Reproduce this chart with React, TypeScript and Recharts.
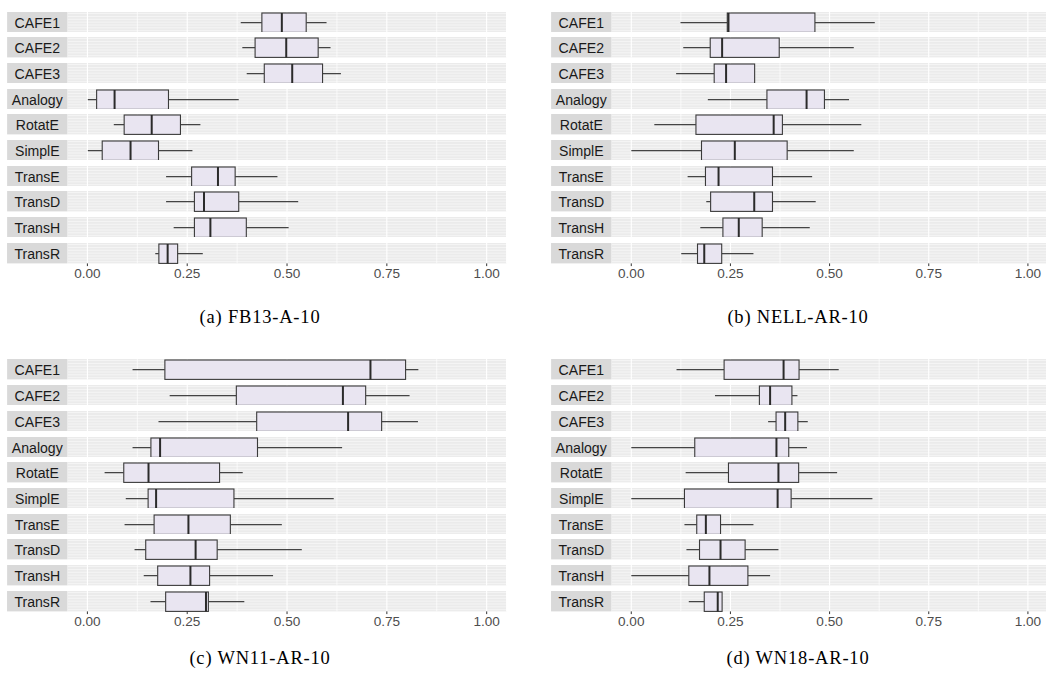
import React from 'react';
import { ComposedChart, Bar, XAxis, YAxis, CartesianGrid } from 'recharts';

// ---------- data ----------
const models = ['CAFE1', 'CAFE2', 'CAFE3', 'Analogy', 'RotatE', 'SimplE', 'TransE', 'TransD', 'TransH', 'TransR'];

// (a) FB13-A-10
const fbLow = [0.384, 0.388, 0.399, 0.001, 0.066, 0.001, 0.197, 0.197, 0.216, 0.170];
const fbQ1 = [0.437, 0.420, 0.443, 0.023, 0.092, 0.037, 0.261, 0.268, 0.268, 0.179];
const fbMed = [0.487, 0.498, 0.513, 0.068, 0.161, 0.108, 0.327, 0.292, 0.308, 0.201];
const fbQ3 = [0.548, 0.578, 0.589, 0.203, 0.233, 0.178, 0.370, 0.379, 0.398, 0.226];
const fbHigh = [0.599, 0.609, 0.635, 0.379, 0.283, 0.263, 0.476, 0.528, 0.504, 0.289];

// (b) NELL-AR-10
const nellLow = [0.124, 0.131, 0.113, 0.193, 0.058, 0.000, 0.142, 0.189, 0.174, 0.126];
const nellQ1 = [0.242, 0.199, 0.209, 0.342, 0.163, 0.177, 0.187, 0.200, 0.231, 0.167];
const nellMed = [0.245, 0.229, 0.239, 0.442, 0.359, 0.261, 0.220, 0.310, 0.271, 0.184];
const nellQ3 = [0.463, 0.373, 0.311, 0.487, 0.381, 0.393, 0.356, 0.356, 0.330, 0.228];
const nellHigh = [0.614, 0.561, 0.311, 0.549, 0.580, 0.561, 0.456, 0.465, 0.450, 0.308];

// (c) WN11-AR-10
const wn11Low = [0.113, 0.206, 0.178, 0.113, 0.043, 0.096, 0.093, 0.118, 0.141, 0.158];
const wn11Q1 = [0.194, 0.373, 0.424, 0.159, 0.091, 0.152, 0.167, 0.146, 0.176, 0.196];
const wn11Med = [0.709, 0.640, 0.653, 0.182, 0.153, 0.172, 0.253, 0.271, 0.258, 0.297];
const wn11Q3 = [0.797, 0.697, 0.737, 0.426, 0.331, 0.367, 0.358, 0.325, 0.306, 0.303];
const wn11High = [0.829, 0.807, 0.828, 0.638, 0.389, 0.617, 0.487, 0.537, 0.465, 0.393];

// (d) WN18-AR-10
const wn18Low = [0.114, 0.211, 0.345, 0.000, 0.137, 0.000, 0.134, 0.139, 0.000, 0.145];
const wn18Q1 = [0.234, 0.323, 0.365, 0.160, 0.245, 0.134, 0.165, 0.172, 0.145, 0.184];
const wn18Med = [0.384, 0.350, 0.388, 0.366, 0.371, 0.369, 0.188, 0.225, 0.197, 0.218];
const wn18Q3 = [0.423, 0.405, 0.420, 0.397, 0.422, 0.403, 0.225, 0.287, 0.294, 0.229];
const wn18High = [0.523, 0.419, 0.445, 0.443, 0.519, 0.608, 0.308, 0.371, 0.350, 0.229];

const axisTicks = [0, 0.25, 0.5, 0.75, 1];
const gridTicks = [0, 0.125, 0.25, 0.375, 0.5, 0.625, 0.75, 0.875, 1];
const captions = ['(a) FB13-A-10', '(b) NELL-AR-10', '(c) WN11-AR-10', '(d) WN18-AR-10'];

// ---------- helpers ----------
type Row = { name: string; lo: number; q1: number; med: number; q3: number; hi: number };

const buildRows = (lo: number[], q1: number[], med: number[], q3: number[], hi: number[]): Row[] =>
  models.map((name, i) => ({ name, lo: lo[i], q1: q1[i], med: med[i], q3: q3[i], hi: hi[i] }));

const DOMAIN: [number, number] = [-0.05, 1.05];
const SANS = '"Liberation Sans", Arial, Helvetica, sans-serif';

const BoxShape = (props: any) => {
  const { x, y, width, height, payload } = props;
  if (x == null || payload == null) return null;
  const span = payload.hi - payload.lo;
  const px = (v: number) => (span > 0 ? x + (width * (v - payload.lo)) / span : x);
  const cy = y + height / 2;
  const xq1 = px(payload.q1);
  const xq3 = px(payload.q3);
  const xm = px(payload.med);
  return (
    <g>
      <line x1={x} x2={xq1} y1={cy} y2={cy} stroke="#444444" strokeWidth={1.2} />
      <line x1={xq3} x2={x + width} y1={cy} y2={cy} stroke="#444444" strokeWidth={1.2} />
      <rect x={xq1} y={y} width={Math.max(xq3 - xq1, 0)} height={height} fill="#E9E5F1" stroke="#3a3a3a" strokeWidth={1.1} />
      <line x1={xm} x2={xm} y1={y} y2={y + height} stroke="#2b2b2b" strokeWidth={2} />
    </g>
  );
};

const vLine = (p: any) => (
  <line
    key={p.key}
    x1={p.x1}
    x2={p.x2}
    y1={p.y1}
    y2={p.y2}
    stroke="#ffffff"
    strokeWidth={p.index % 2 === 0 ? 1.1 : 0.7}
  />
);

const hLine = (p: any) => (
  <line key={p.key} x1={p.x1} x2={p.x2} y1={p.y1} y2={p.y2} stroke="#ffffff" strokeWidth={0.6} strokeOpacity={0.85} />
);

const StripTick = (props: any) => {
  const { y, payload, stripW, rowH } = props;
  return (
    <g>
      <rect x={0} y={y - rowH / 2} width={stripW} height={rowH} fill="#D9D9D9" />
      <text
        transform={`translate(${stripW / 2},${y + 0.3}) scale(1,1.06)`}
        textAnchor="middle"
        dominantBaseline="central"
        fontFamily={SANS}
        fontSize={14.1}
        fill="#1A1A1A"
      >
        {payload.value}
      </text>
    </g>
  );
};

const AxisTick = (props: any) => {
  const { x, y, payload } = props;
  return (
    <text
      x={x}
      y={y}
      textAnchor="middle"
      dy="0.71em"
      fontFamily={SANS}
      fontSize={13.6}
      fill="#4D4D4D"
    >
      {Number(payload.value).toFixed(2)}
    </text>
  );
};

const RowChart = ({ row, stripW, plotW, rowH, showAxis }: { row: Row; stripW: number; plotW: number; rowH: number; showAxis: boolean }) => {
  const axisH = showAxis ? 26 : 0;
  const pts: number[] = [];
  for (let k = 1.6; k < rowH - 0.5; k += 2.85) pts.push(k);
  return (
    <ComposedChart
      width={stripW + plotW}
      height={rowH + axisH}
      data={[row]}
      layout="vertical"
      margin={{ top: 0, right: 0, bottom: 0, left: 0 }}
      barCategoryGap={0}
    >
      <CartesianGrid
        xAxisId="g"
        fill="#EBEBEB"
        fillOpacity={1}
        horizontalPoints={pts}
        horizontal={hLine}
        vertical={vLine}
      />
      <XAxis xAxisId="g" type="number" orientation="top" height={0} domain={DOMAIN} ticks={gridTicks} allowDataOverflow hide />
      {showAxis && (
        <XAxis
          xAxisId="lab"
          type="number"
          orientation="bottom"
          domain={DOMAIN}
          ticks={axisTicks}
          allowDataOverflow
          axisLine={false}
          tickLine={{ stroke: '#333333', strokeWidth: 1 }}
          tickSize={2.7}
          tickMargin={2.4}
          height={axisH}
          tick={<AxisTick />}
          interval={0}
        />
      )}
      <YAxis
        type="category"
        dataKey="name"
        width={stripW}
        axisLine={false}
        tickLine={false}
        tick={(p: any) => <StripTick {...p} stripW={stripW} rowH={rowH} />}
      />
      <Bar
        xAxisId="g"
        dataKey={(d: Row) => [d.lo, d.hi]}
        barSize={rowH - 1}
        shape={BoxShape}
        isAnimationActive={false}
      />
    </ComposedChart>
  );
};

const panels = [
  { rows: buildRows(fbLow, fbQ1, fbMed, fbQ3, fbHigh), left: 7.3, top: 11.7, pitch: 25.67, plotW: 439.3, capX: 260, capY: 316.7 },
  { rows: buildRows(nellLow, nellQ1, nellMed, nellQ3, nellHigh), left: 550.7, top: 11.7, pitch: 25.67, plotW: 436.4, capX: 798, capY: 316.7 },
  { rows: buildRows(wn11Low, wn11Q1, wn11Med, wn11Q3, wn11High), left: 7.3, top: 359.3, pitch: 25.74, plotW: 439.3, capX: 260, capY: 658.3 },
  { rows: buildRows(wn18Low, wn18Q1, wn18Med, wn18Q3, wn18High), left: 550.7, top: 359.3, pitch: 25.74, plotW: 436.4, capX: 798, capY: 658.3 },
];

const STRIP_W = 60.4;
const ROW_H = 20.4;

export default function App() {
  return (
    <div style={{ position: 'absolute', left: 0, top: 0, width: 1046, height: 674, overflow: 'hidden', background: '#ffffff' }}>
      {panels.map((p, pi) => (
        <React.Fragment key={pi}>
          {p.rows.map((row, ri) => (
            <div
              key={row.name}
              style={{ position: 'absolute', left: p.left, top: p.top + ri * p.pitch, lineHeight: 0 }}
            >
              <RowChart row={row} stripW={STRIP_W} plotW={p.plotW} rowH={ROW_H} showAxis={ri === p.rows.length - 1} />
            </div>
          ))}
          <div
            style={{
              position: 'absolute',
              left: p.capX - 150,
              width: 300,
              top: p.capY - 11,
              height: 22,
              lineHeight: '22px',
              textAlign: 'center',
              fontFamily: '"Liberation Serif", "Times New Roman", serif',
              fontSize: 18.5,
              letterSpacing: 0.8,
              color: '#000000',
            }}
          >
            {captions[pi]}
          </div>
        </React.Fragment>
      ))}
    </div>
  );
}
